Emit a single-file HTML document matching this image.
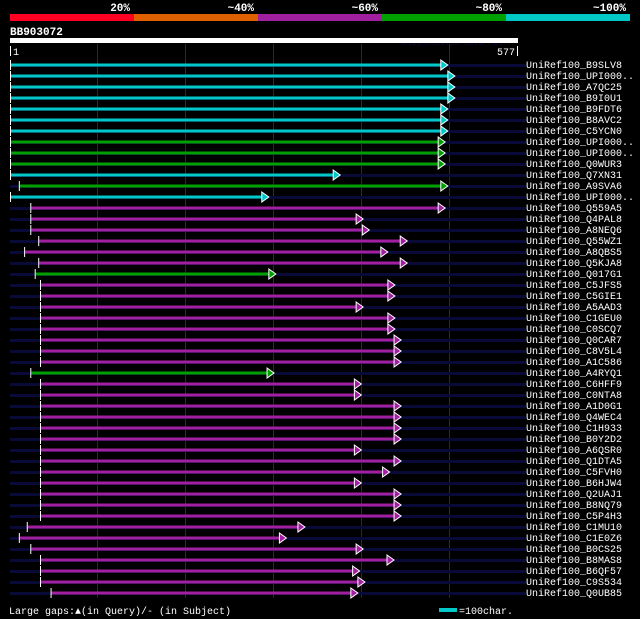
<!DOCTYPE html>
<html><head><meta charset="utf-8"><style>
html,body{margin:0;padding:0;background:#000;}
svg{display:block;}
text{font-family:"Liberation Mono",monospace;}
</style></head><body>
<svg id="chart" width="640" height="619" xmlns="http://www.w3.org/2000/svg">
<rect width="640" height="619" fill="#000"/>
</svg>
<script>
const names=["B9SLV8","UPI000..","A7QC25","B9I0U1","B9FDT6","B8AVC2","C5YCN0","UPI000..","UPI000..","Q0WUR3","Q7XN31","A9SVA6","UPI000..","Q559A5","Q4PAL8","A8NEQ6","Q55WZ1","A8QBS5","Q5KJA8","Q017G1","C5JFS5","C5GIE1","A5AAD3","C1GEU0","C0SCQ7","Q0CAR7","C8V5L4","A1C586","A4RYQ1","C6HFF9","C0NTA8","A1D0G1","Q4WEC4","C1H933","B0Y2D2","A6QSR0","Q1DTA5","C5FVH0","B6HJW4","Q2UAJ1","B8NQ79","C5P4H3","C1MU10","C1E0Z6","B0CS25","B8MAS8","B6QF57","C9S534","Q0UB85"];
const starts=[1,1,1,1,1,1,1,1,1,1,1,11,1,24,24,24,33,17,33,29,35,35,35,35,35,35,35,35,24,35,35,35,35,35,35,35,35,35,35,35,35,35,20,11,24,35,35,35,47];
const ends=[494,502,502,502,494,494,494,491,491,491,372,494,291,491,398,405,448,426,448,299,434,434,398,434,434,441,441,441,297,396,396,441,441,441,441,396,441,428,396,441,441,441,332,311,398,433,394,400,392];
const identity=[100,100,100,100,100,100,100,80,80,80,100,80,100,60,60,60,60,60,60,80,60,60,60,60,60,60,60,60,80,60,60,60,60,60,60,60,60,60,60,60,60,60,60,60,60,60,60,60,60];
const queryLen=577;
const ticks=[1,577];
const colorBins=[{t:"20%",c:"#ff0022"},{t:"~40%",c:"#e06000"},{t:"~60%",c:"#a020a0"},{t:"~80%",c:"#00a000"},{t:"~100%",c:"#00c8c8"}];

const svg=document.getElementById('chart');
const NS="http://www.w3.org/2000/svg";
function mk(tag,attrs,parent){const e=document.createElementNS(NS,tag);for(const k in attrs)e.setAttribute(k,attrs[k]);(parent||svg).appendChild(e);return e;}
const x=r=>10+(r-1)*508/(queryLen-1);
const y=i=>65+i*11;
function col(p){return p>=100?"#00c8c8":p>=80?"#00a000":p>=60?"#a020a0":p>=40?"#e06000":"#ff0022";}

colorBins.forEach((b,i)=>{
  const r=mk('rect',{x:10+i*124,y:14,width:124,height:7,fill:b.c});
  
  
  const t=mk('text',{x:10+(i+1)*124-4,y:11,'text-anchor':'end',fill:'#fff','font-size':11,'font-weight':'bold'});
  t.textContent=b.t;
  
  
});
let t=mk('text',{x:10,y:35,fill:'#fff','font-size':11,'font-weight':'bold'});t.textContent="BB903072";

t=mk('text',{x:402,y:45,fill:'#0a0a40','font-size':8});t.textContent="AlignView.pm Beta rel.7";

let q=mk('rect',{x:10,y:38,width:508,height:5,fill:'#fff'});

mk('rect',{x:10,y:46,width:1,height:10,fill:'#fff'});
mk('rect',{x:517,y:46,width:1,height:10,fill:'#fff'});
t=mk('text',{x:13,y:55,fill:'#fff','font-size':10});t.textContent=ticks[0];

t=mk('text',{x:515,y:55,fill:'#fff','font-size':10,'text-anchor':'end'});t.textContent=ticks[1];

for(let k=1;k<=5;k++){
  const gx=10+k*88;
  const g=mk('line',{x1:gx-0.5,x2:gx-0.5,y1:44,y2:598,stroke:'#2e2e10','stroke-width':1});
  
}
names.forEach((n,i)=>{
  const yy=y(i);
  const g=mk('g',{});
  
  
  mk('rect',{x:10,y:yy-1,width:516,height:3,fill:'#0a0a38'},g);
  const x1=x(starts[i]),x2=x(ends[i]),c=col(identity[i]);
  mk('rect',{x:x1+1,y:yy-1.5,width:x2-x1-1,height:3,fill:c},g);
  mk('rect',{x:x1,y:yy-5,width:1,height:10,fill:'#fff'},g);
  mk('polygon',{points:`${x2-4},${yy-5} ${x2+3},${yy} ${x2-4},${yy+5}`,fill:c,stroke:'#fff','stroke-width':1},g);
  const tx=mk('text',{x:526,y:yy+3,fill:'#fff','font-size':10},g);
  tx.textContent="UniRef100_"+n;
});
t=mk('text',{x:9,y:614,fill:'#fff','font-size':10});t.textContent="Large gaps:\u25B2(in Query)/- (in Subject)";

mk('rect',{x:439,y:608,width:18,height:4,fill:'#00c8c8'});
t=mk('text',{x:459,y:614,fill:'#fff','font-size':10});t.textContent="=100char.";

</script>
</body></html>
